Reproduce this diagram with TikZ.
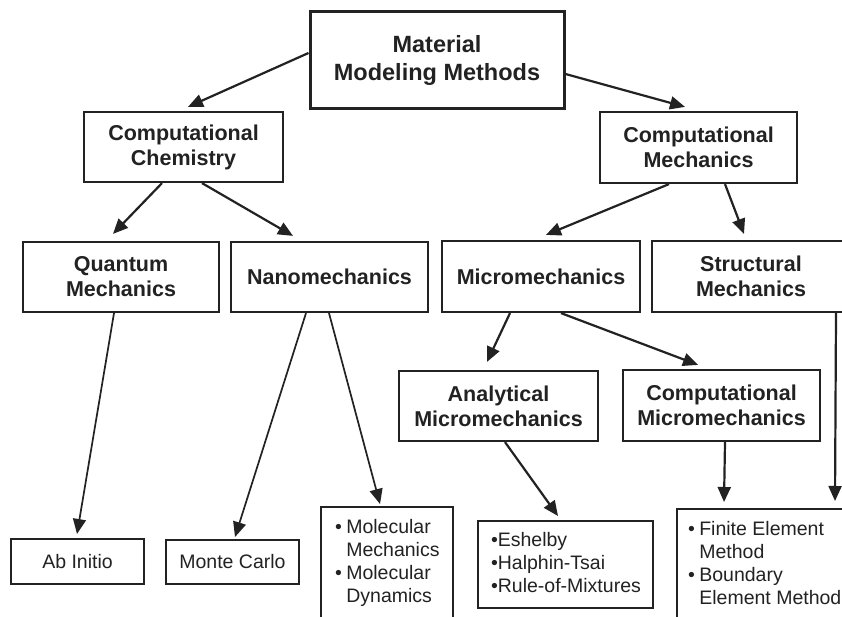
\documentclass[tikz,border=0pt]{standalone}
\usepackage{fontspec}
\setmainfont{Liberation Sans}
\usetikzlibrary{arrows.meta,calc}
\definecolor{ink}{HTML}{222222}
\begin{document}
\begin{tikzpicture}[x=1pt,y=-1pt,
  box/.style={draw=ink,line width=2.2pt,text=ink,inner sep=0pt,align=center,
    font=\bfseries\fontsize{21.5}{25}\selectfont},
  leaf/.style={draw=ink,line width=2pt,text=ink,inner sep=0pt,
    font=\fontsize{19.5}{23}\selectfont},
  arr/.style={draw=ink,line width=2.2pt,-{Triangle[length=15pt,width=13pt]}},
  longarr/.style={arr,line width=1.7pt},
]
\useasboundingbox[fill=white] (0,0) rectangle (842,617);

% top level
\node[box,minimum width=254pt,minimum height=97pt,line width=3pt,
  font=\bfseries\fontsize{23.5}{28}\selectfont] (mmm) at (437,60.5) {Material\\Modeling Methods};

% second level
\node[box,minimum width=199pt,minimum height=70pt] (cc) at (183.5,147) {Computational\\Chemistry};
\node[box,minimum width=197pt,minimum height=71pt] (cm) at (698.5,147.5) {Computational\\Mechanics};

% third level
\node[box,minimum width=196pt,minimum height=70pt] (qm) at (121,277) {Quantum\\Mechanics};
\node[box,minimum width=197pt,minimum height=70pt] (nano) at (329.5,277) {Nanomechanics};
\node[box,minimum width=198pt,minimum height=71pt] (micro) at (541,276.5) {Micromechanics};
\node[box,minimum width=198pt,minimum height=71pt] (struct) at (751,276.5) {Structural\\Mechanics};

% fourth level
\node[box,minimum width=199pt,minimum height=70pt] (anal) at (498.5,406) {Analytical\\Micromechanics};
\node[box,minimum width=197pt,minimum height=71pt] (cmicro) at (721.5,405.5) {Computational\\Micromechanics};

% leaves
\node[leaf,minimum width=133pt,minimum height=45pt] (abi) at (77.5,561.5) {Ab Initio};
\node[leaf,minimum width=133pt,minimum height=44pt] (mc) at (232.5,562) {Monte Carlo};
\node[leaf,minimum width=132pt,minimum height=113pt] (mol) at (387,563.5)
  {\makebox[104pt][l]{\begin{tabular}{@{}l@{\hspace{4.5pt}}l@{}}
   • & Molecular\\ & Mechanics\\ • & Molecular\\ & Dynamics\end{tabular}}};
\node[leaf,minimum width=175pt,minimum height=87pt] (esh) at (565.5,564.5)
  {\makebox[149pt][l]{\begin{tabular}{@{}l@{}}
   •Eshelby\\ •Halphin-Tsai\\ •Rule-of-Mixtures\end{tabular}}};
\node[leaf,minimum width=178pt,minimum height=112pt] (fe) at (766,565)
  {\makebox[156pt][l]{\begin{tabular}{@{}l@{\hspace{4.5pt}}l@{}}
   • & Finite Element\\ & Method\\ • & Boundary\\ & Element Method\end{tabular}}};

% connectors
\draw[arr] ($(mmm.west)+(0,-7.5)$) -- ($(cc.north)+(4.5,-4)$);
\draw[arr] ($(mmm.east)+(0,13.5)$) -- ($(cm.north)+(-13.5,-4)$);
\draw[arr] ($(cc.south)+(-21.5,0)$) -- ($(qm.north)+(-8,-7)$);
\draw[arr] ($(cc.south)+(18.5,0)$) -- ($(nano.north)+(-36.5,-5)$);
\draw[arr] ($(cm.south)+(-29.5,0)$) -- ($(micro.north)+(5,-5)$);
\draw[arr] ($(cm.south)+(26.5,0)$) -- ($(struct.north)+(-7,-6)$);
\draw[longarr] ($(qm.south)+(-7,0)$) -- ($(abi.north)+(-0.5,-4)$);
\draw[longarr] ($(nano.south)+(-23.5,0)$) -- ($(mc.north)+(2.5,-2)$);
\draw[longarr] ($(nano.south)+(-0.5,0)$) -- ($(mol.north)+(-7,-2)$);
\draw[arr] ($(micro.south)+(-31,0)$) -- ($(anal.north)+(-11.5,-8)$);
\draw[arr] ($(micro.south)+(20,0)$) -- ($(cmicro.north)+(-23.5,-4)$);
\draw[arr] ($(anal.south)+(6.5,0)$) -- ($(esh.north)+(-7.5,-4)$);
\draw[arr] ($(cmicro.south)+(3.5,0)$) -- ($(fe.north west)+(48,-6)$);
\draw[arr] ($(struct.south)+(85,0)$) -- ($(fe.north west)+(159,-7)$);
\end{tikzpicture}
\end{document}
